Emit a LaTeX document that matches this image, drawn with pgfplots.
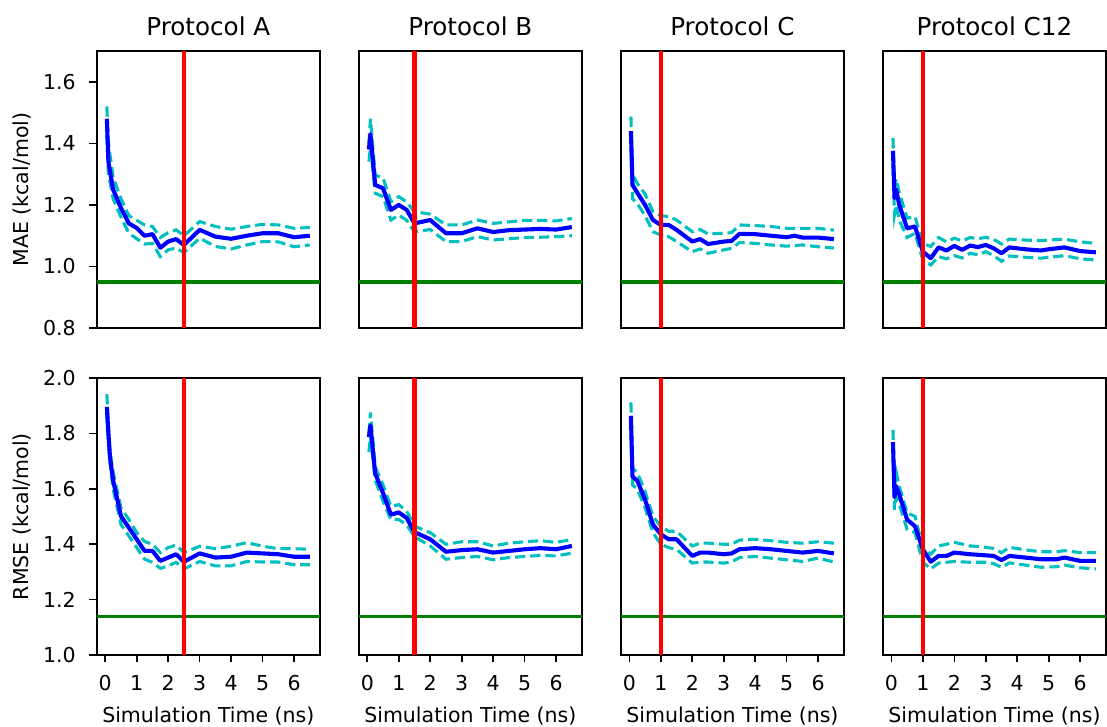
\documentclass[border=0pt]{standalone}
\usepackage{pgfplots}
\pgfplotsset{compat=1.18}
\usepgfplotslibrary{groupplots}
\usepackage{fontspec}
\setmainfont{DejaVu Sans}
\definecolor{mblue}{RGB}{0,0,255}
\definecolor{mcyan}{RGB}{0,191,191}
\definecolor{mgreen}{RGB}{0,128,0}
\definecolor{mred}{RGB}{255,0,0}
\pgfplotsset{
  meanline/.style={mblue, line width=2pt, line join=round, mark=none},
  ciline/.style={mcyan, line width=1.5pt, dash pattern=on 5pt off 2.4pt, mark=none},
  redline/.style={mred, line width=2pt, mark=none},
  greenline/.style={mgreen, line width=1.6pt, mark=none},
}
\begin{document}
\begin{tikzpicture}
\begin{groupplot}[
  group style={group size=4 by 2, horizontal sep=19pt, vertical sep=24.4pt},
  scale only axis, width=108.8pt, height=135.1pt,
  xmin=-0.27, xmax=6.82,
  axis line style={line width=0.8pt},
  tick style={line width=0.8pt, black},
  tick align=outside, major tick length=3.6pt,
  tick pos=left,
  /pgf/number format/assume math mode=true,
  tick label style={font=\fontsize{10}{12}\selectfont},
  every axis title/.style={at={(0.5,1)}, anchor=base, yshift=7.8pt, font=\fontsize{12}{14}\selectfont},
  every axis y label/.style={at={(axis description cs:0,0.5)}, xshift=-33.3pt, rotate=90, anchor=base, font=\fontsize{10}{12}\selectfont},
  every axis x label/.style={at={(axis description cs:0.5,0)}, anchor=base, yshift=-32.8pt, font=\fontsize{10}{12}\selectfont},
  xticklabel style={anchor=base, yshift=-13.8pt},
  yticklabel style={anchor=east, inner sep=0pt, xshift=-6.5pt, /pgf/number format/.cd, fixed, fixed zerofill, precision=1},
]
% ---------------- Row 1: MAE ----------------
\nextgroupplot[title={Protocol A}, ymin=0.8, ymax=1.7, ytick={0.8,1.0,1.2,1.4,1.6}, xtick=\empty, ylabel={MAE (kcal/mol)}]
\addplot[greenline] coordinates {(-0.27,0.95) (6.82,0.95)};
\addplot[ciline] coordinates {(0.05,1.52)(0.1,1.40)(0.25,1.29)(0.5,1.22)(0.75,1.165)(1.0,1.15)(1.25,1.135)(1.5,1.13)(1.75,1.094)(2.0,1.11)(2.25,1.119)(2.5,1.10)(3.0,1.146)(3.5,1.13)(4.0,1.121)(4.5,1.13)(5.0,1.137)(5.5,1.135)(6.0,1.124)(6.5,1.127)};
\addplot[ciline] coordinates {(0.05,1.43)(0.1,1.30)(0.25,1.22)(0.5,1.16)(0.75,1.108)(1.0,1.09)(1.25,1.073)(1.5,1.075)(1.75,1.032)(2.0,1.054)(2.25,1.06)(2.5,1.045)(3.0,1.092)(3.5,1.065)(4.0,1.057)(4.5,1.07)(5.0,1.081)(5.5,1.08)(6.0,1.064)(6.5,1.07)};
\addplot[meanline] coordinates {(0.05,1.48)(0.1,1.34)(0.25,1.25)(0.5,1.19)(0.75,1.14)(1.0,1.125)(1.25,1.10)(1.5,1.105)(1.75,1.061)(2.0,1.081)(2.25,1.089)(2.5,1.07)(3.0,1.119)(3.5,1.097)(4.0,1.09)(4.5,1.10)(5.0,1.108)(5.5,1.108)(6.0,1.095)(6.5,1.10)};
\addplot[redline] coordinates {(2.5,0.8) (2.5,1.7)};

\nextgroupplot[title={Protocol B}, ymin=0.8, ymax=1.7, ytick=\empty, xtick=\empty]
\addplot[greenline] coordinates {(-0.27,0.95) (6.82,0.95)};
\addplot[ciline] coordinates {(0.05,1.40)(0.1,1.48)(0.25,1.297)(0.5,1.287)(0.75,1.211)(1.0,1.227)(1.25,1.21)(1.5,1.178)(2.0,1.17)(2.5,1.135)(3.0,1.135)(3.5,1.151)(4.0,1.14)(4.5,1.145)(5.0,1.15)(5.5,1.15)(6.0,1.148)(6.5,1.156)};
\addplot[ciline] coordinates {(0.05,1.341)(0.1,1.39)(0.25,1.238)(0.5,1.227)(0.75,1.151)(1.0,1.167)(1.25,1.15)(1.5,1.113)(2.0,1.12)(2.5,1.081)(3.0,1.081)(3.5,1.097)(4.0,1.086)(4.5,1.09)(5.0,1.094)(5.5,1.095)(6.0,1.097)(6.5,1.10)};
\addplot[meanline] coordinates {(0.05,1.38)(0.1,1.43)(0.25,1.265)(0.5,1.254)(0.75,1.184)(1.0,1.20)(1.25,1.184)(1.5,1.14)(2.0,1.151)(2.5,1.108)(3.0,1.108)(3.5,1.124)(4.0,1.112)(4.5,1.118)(5.0,1.12)(5.5,1.122)(6.0,1.12)(6.5,1.128)};
\addplot[redline] coordinates {(1.5,0.8) (1.5,1.7)};

\nextgroupplot[title={Protocol C}, ymin=0.8, ymax=1.7, ytick=\empty, xtick=\empty]
\addplot[greenline] coordinates {(-0.27,0.95) (6.82,0.95)};
\addplot[ciline] coordinates {(0.05,1.487)(0.1,1.30)(0.25,1.27)(0.5,1.235)(0.75,1.178)(1.0,1.165)(1.25,1.162)(1.5,1.151)(2.0,1.113)(2.25,1.12)(2.5,1.106)(3.0,1.108)(3.25,1.11)(3.5,1.135)(4.0,1.133)(4.5,1.13)(5.0,1.124)(5.5,1.124)(6.0,1.124)(6.5,1.118)};
\addplot[ciline] coordinates {(0.05,1.39)(0.1,1.22)(0.25,1.205)(0.5,1.165)(0.75,1.113)(1.0,1.102)(1.25,1.097)(1.5,1.081)(2.0,1.048)(2.25,1.057)(2.5,1.043)(3.0,1.054)(3.25,1.059)(3.5,1.078)(4.0,1.075)(4.5,1.07)(5.0,1.066)(5.5,1.07)(6.0,1.064)(6.5,1.06)};
\addplot[meanline] coordinates {(0.05,1.44)(0.1,1.265)(0.25,1.24)(0.5,1.20)(0.75,1.151)(1.0,1.135)(1.25,1.135)(1.5,1.119)(2.0,1.081)(2.25,1.089)(2.5,1.073)(3.0,1.081)(3.25,1.083)(3.5,1.106)(4.0,1.105)(4.5,1.10)(5.0,1.095)(5.25,1.10)(5.5,1.094)(6.0,1.094)(6.5,1.089)};
\addplot[redline] coordinates {(1.0,0.8) (1.0,1.7)};

\nextgroupplot[title={Protocol C12}, ymin=0.8, ymax=1.7, ytick=\empty, xtick=\empty]
\addplot[greenline] coordinates {(-0.27,0.95) (6.82,0.95)};
\addplot[ciline] coordinates {(0.05,1.417)(0.1,1.26)(0.15,1.285)(0.25,1.24)(0.5,1.157)(0.75,1.162)(1.0,1.075)(1.25,1.065)(1.5,1.094)(1.75,1.08)(2.0,1.092)(2.25,1.083)(2.5,1.094)(2.75,1.09)(3.0,1.095)(3.25,1.088)(3.5,1.073)(3.75,1.089)(4.25,1.086)(4.75,1.084)(5.0,1.086)(5.5,1.089)(6.0,1.08)(6.5,1.075)};
\addplot[ciline] coordinates {(0.05,1.33)(0.1,1.17)(0.15,1.20)(0.25,1.151)(0.5,1.094)(0.75,1.108)(1.0,1.021)(1.25,1.005)(1.5,1.032)(1.75,1.025)(2.0,1.035)(2.25,1.028)(2.5,1.043)(2.75,1.038)(3.0,1.048)(3.25,1.035)(3.5,1.017)(3.75,1.034)(4.25,1.03)(4.75,1.027)(5.0,1.03)(5.5,1.035)(6.0,1.025)(6.5,1.021)};
\addplot[meanline] coordinates {(0.05,1.376)(0.1,1.222)(0.15,1.25)(0.25,1.20)(0.5,1.124)(0.75,1.13)(1.0,1.048)(1.25,1.027)(1.5,1.062)(1.75,1.052)(2.0,1.067)(2.25,1.054)(2.5,1.068)(2.75,1.063)(3.0,1.07)(3.25,1.059)(3.5,1.043)(3.75,1.062)(4.25,1.056)(4.75,1.052)(5.0,1.056)(5.5,1.062)(6.0,1.05)(6.5,1.046)};
\addplot[redline] coordinates {(1.0,0.8) (1.0,1.7)};

% ---------------- Row 2: RMSE ----------------
\nextgroupplot[ymin=1.0, ymax=2.0, ytick={1.0,1.2,1.4,1.6,1.8,2.0}, xtick={0,1,2,3,4,5,6}, ylabel={RMSE (kcal/mol)}, xlabel={Simulation Time (ns)}]
\addplot[greenline] coordinates {(-0.27,1.14) (6.82,1.14)};
\addplot[ciline] coordinates {(0.05,1.942)(0.1,1.83)(0.15,1.735)(0.25,1.66)(0.5,1.531)(0.75,1.49)(1.0,1.442)(1.25,1.41)(1.5,1.40)(1.75,1.37)(2.0,1.388)(2.25,1.397)(2.5,1.37)(3.0,1.393)(3.5,1.384)(4.0,1.393)(4.5,1.406)(5.0,1.393)(5.5,1.384)(6.0,1.384)(6.5,1.382)};
\addplot[ciline] coordinates {(0.05,1.87)(0.1,1.77)(0.15,1.692)(0.25,1.60)(0.5,1.471)(0.75,1.43)(1.0,1.388)(1.25,1.346)(1.5,1.335)(1.75,1.313)(2.0,1.322)(2.25,1.335)(2.5,1.311)(3.0,1.338)(3.5,1.322)(4.0,1.322)(4.5,1.338)(5.0,1.336)(5.5,1.336)(6.0,1.326)(6.5,1.326)};
\addplot[meanline] coordinates {(0.05,1.896)(0.1,1.80)(0.15,1.715)(0.25,1.63)(0.5,1.501)(0.75,1.46)(1.0,1.418)(1.25,1.376)(1.5,1.376)(1.75,1.34)(2.0,1.352)(2.25,1.364)(2.5,1.337)(3.0,1.367)(3.5,1.352)(4.0,1.355)(4.5,1.37)(5.0,1.367)(5.5,1.364)(6.0,1.355)(6.5,1.355)};
\addplot[redline] coordinates {(2.5,1.0) (2.5,2.0)};

\nextgroupplot[ymin=1.0, ymax=2.0, ytick=\empty, xtick={0,1,2,3,4,5,6}, xlabel={Simulation Time (ns)}]
\addplot[greenline] coordinates {(-0.27,1.14) (6.82,1.14)};
\addplot[ciline] coordinates {(0.05,1.80)(0.1,1.876)(0.25,1.68)(0.5,1.614)(0.75,1.537)(1.0,1.543)(1.25,1.52)(1.5,1.465)(2.0,1.442)(2.5,1.40)(3.0,1.409)(3.5,1.409)(4.0,1.394)(4.5,1.404)(5.0,1.409)(5.5,1.413)(6.0,1.407)(6.5,1.417)};
\addplot[ciline] coordinates {(0.05,1.733)(0.1,1.79)(0.25,1.632)(0.5,1.555)(0.75,1.489)(1.0,1.489)(1.25,1.471)(1.5,1.427)(2.0,1.394)(2.5,1.346)(3.0,1.352)(3.5,1.356)(4.0,1.344)(4.5,1.352)(5.0,1.356)(5.5,1.36)(6.0,1.358)(6.5,1.368)};
\addplot[meanline] coordinates {(0.05,1.787)(0.1,1.829)(0.25,1.656)(0.5,1.585)(0.75,1.507)(1.0,1.515)(1.25,1.495)(1.5,1.444)(2.0,1.418)(2.5,1.373)(3.0,1.379)(3.5,1.382)(4.0,1.37)(4.5,1.376)(5.0,1.382)(5.5,1.386)(6.0,1.382)(6.5,1.394)};
\addplot[redline] coordinates {(1.5,1.0) (1.5,2.0)};

\nextgroupplot[ymin=1.0, ymax=2.0, ytick=\empty, xtick={0,1,2,3,4,5,6}, xlabel={Simulation Time (ns)}]
\addplot[greenline] coordinates {(-0.27,1.14) (6.82,1.14)};
\addplot[ciline] coordinates {(0.05,1.912)(0.1,1.674)(0.25,1.66)(0.5,1.59)(0.75,1.501)(1.0,1.465)(1.25,1.447)(1.5,1.447)(2.0,1.394)(2.25,1.404)(2.5,1.404)(3.0,1.40)(3.25,1.40)(3.5,1.415)(4.0,1.418)(4.5,1.413)(5.0,1.407)(5.5,1.404)(6.0,1.409)(6.5,1.404)};
\addplot[ciline] coordinates {(0.05,1.80)(0.1,1.614)(0.25,1.60)(0.5,1.531)(0.75,1.442)(1.0,1.40)(1.25,1.388)(1.5,1.382)(2.0,1.332)(2.25,1.336)(2.5,1.336)(3.0,1.332)(3.25,1.336)(3.5,1.352)(4.0,1.356)(4.5,1.35)(5.0,1.344)(5.5,1.338)(6.0,1.35)(6.5,1.336)};
\addplot[meanline] coordinates {(0.05,1.864)(0.1,1.644)(0.25,1.63)(0.5,1.561)(0.75,1.471)(1.0,1.436)(1.25,1.418)(1.5,1.418)(2.0,1.358)(2.25,1.37)(2.5,1.37)(3.0,1.364)(3.25,1.367)(3.5,1.382)(4.0,1.386)(4.5,1.382)(5.0,1.376)(5.5,1.37)(6.0,1.376)(6.5,1.367)};
\addplot[redline] coordinates {(1.0,1.0) (1.0,2.0)};

\nextgroupplot[ymin=1.0, ymax=2.0, ytick=\empty, xtick={0,1,2,3,4,5,6}, xlabel={Simulation Time (ns)}]
\addplot[greenline] coordinates {(-0.27,1.14) (6.82,1.14)};
\addplot[ciline] coordinates {(0.05,1.813)(0.1,1.60)(0.15,1.662)(0.25,1.61)(0.5,1.513)(0.75,1.501)(1.0,1.389)(1.25,1.364)(1.5,1.394)(1.75,1.40)(2.0,1.407)(2.5,1.394)(2.75,1.392)(3.0,1.389)(3.25,1.385)(3.5,1.37)(3.75,1.389)(4.25,1.38)(4.75,1.373)(5.25,1.373)(5.5,1.377)(6.0,1.37)(6.5,1.37)};
\addplot[ciline] coordinates {(0.05,1.72)(0.1,1.525)(0.15,1.57)(0.25,1.545)(0.5,1.454)(0.75,1.442)(1.0,1.335)(1.25,1.311)(1.5,1.332)(1.75,1.335)(2.0,1.338)(2.5,1.335)(2.75,1.335)(3.0,1.335)(3.25,1.33)(3.5,1.317)(3.75,1.333)(4.25,1.325)(4.75,1.317)(5.25,1.319)(5.5,1.325)(6.0,1.315)(6.5,1.311)};
\addplot[meanline] coordinates {(0.05,1.769)(0.1,1.57)(0.15,1.61)(0.25,1.58)(0.5,1.489)(0.75,1.465)(1.0,1.382)(1.25,1.337)(1.5,1.358)(1.75,1.358)(2.0,1.37)(2.5,1.364)(2.75,1.362)(3.0,1.36)(3.25,1.358)(3.5,1.343)(3.75,1.358)(4.25,1.352)(4.75,1.346)(5.25,1.346)(5.5,1.352)(6.0,1.34)(6.5,1.34)};
\addplot[redline] coordinates {(1.0,1.0) (1.0,2.0)};
\end{groupplot}
\pgfresetboundingbox
\path ([xshift=-47.2pt,yshift=24.9pt]group c1r1.north west) rectangle ([xshift=0.5pt,yshift=-34.6pt]group c4r2.south east);
\end{tikzpicture}
\end{document}
